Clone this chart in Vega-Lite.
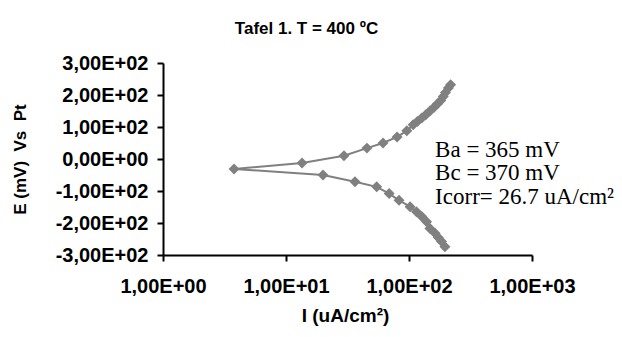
{
  "$schema": "https://vega.github.io/schema/vega-lite/v6.json",
  "autosize": {"type": "none"},
  "width": 369,
  "height": 192,
  "padding": {"left": 163, "top": 63, "right": 90, "bottom": 82},
  "background": "white",
  "config": {"view": {"stroke": null}, "axis": {"labelOverlap": false, "grid": false}},
  "title": {
    "text": "Tafel 1. T = 400 ºC",
    "font": "Liberation Sans",
    "fontSize": 17,
    "fontWeight": "bold",
    "color": "black",
    "anchor": "middle",
    "dx": -41,
    "offset": 15
  },
  "datasets": {
    "pts": [
      {"o": 1, "i": 218, "e": 232},
      {"o": 2, "i": 209, "e": 222},
      {"o": 3, "i": 198, "e": 208},
      {"o": 4, "i": 190, "e": 195},
      {"o": 5, "i": 181, "e": 183},
      {"o": 6, "i": 170, "e": 172},
      {"o": 7, "i": 160, "e": 162},
      {"o": 8, "i": 148, "e": 150},
      {"o": 9, "i": 137, "e": 138},
      {"o": 10, "i": 127, "e": 128},
      {"o": 11, "i": 117, "e": 117},
      {"o": 12, "i": 108, "e": 107},
      {"o": 13, "i": 96, "e": 88},
      {"o": 14, "i": 80, "e": 69},
      {"o": 15, "i": 61.5, "e": 50},
      {"o": 16, "i": 45.5, "e": 34},
      {"o": 17, "i": 29.6, "e": 10},
      {"o": 18, "i": 13.5, "e": -12.5},
      {"o": 19, "i": 3.78, "e": -31},
      {"o": 20, "i": 20, "e": -50},
      {"o": 21, "i": 36.4, "e": -71},
      {"o": 22, "i": 54.6, "e": -87},
      {"o": 23, "i": 69, "e": -108},
      {"o": 24, "i": 83, "e": -129},
      {"o": 25, "i": 102, "e": -149},
      {"o": 26, "i": 115, "e": -165},
      {"o": 27, "i": 127, "e": -180},
      {"o": 28, "i": 139, "e": -196},
      {"o": 29, "i": 148, "e": -217},
      {"o": 30, "i": 163, "e": -232},
      {"o": 31, "i": 173, "e": -245},
      {"o": 32, "i": 184, "e": -258},
      {"o": 33, "i": 196, "e": -274}
    ],
    "notes": [
      {"i": 163, "e": 28, "t": "Ba = 365 mV"},
      {"i": 163, "e": -44, "t": "Bc = 370 mV"},
      {"i": 163, "e": -119, "t": "Icorr= 26.7 uA/cm²"}
    ]
  },
  "encoding": {
    "x": {
      "field": "i", "type": "quantitative",
      "scale": {"type": "log", "domain": [1, 1000], "nice": false},
      "axis": {
        "values": [1, 10, 100, 1000],
        "labelExpr": "'1,00E+0' + round(log(datum.value)/LN10)",
        "title": "I (uA/cm²)",
        "titleX": 182, "titleY": 60, "titleBaseline": "middle", "titleAlign": "center",
        "titleFont": "Liberation Sans", "titleFontSize": 19, "titleFontWeight": "bold", "titleColor": "black",
        "labelFont": "Liberation Sans", "labelFontSize": 20, "labelFontWeight": "bold", "labelColor": "black",
        "labelPadding": 15, "labelFlush": false, "labelOverlap": false,
        "domainColor": "black", "domainWidth": 2, "tickColor": "black", "tickWidth": 2, "tickSize": 6
      }
    },
    "y": {
      "field": "e", "type": "quantitative",
      "scale": {"domain": [-300, 300], "nice": false},
      "axis": {
        "values": [-300, -200, -100, 0, 100, 200, 300],
        "labelExpr": "datum.value == 0 ? '0,00E+00' : (datum.value < 0 ? '-' : '') + format(abs(datum.value)/100, 'd') + ',00E+02'",
        "title": "E (mV)\u00a0\u00a0Vs\u00a0\u00a0Pt",
        "titleX": -143, "titleY": 96, "titleAngle": -90, "titleBaseline": "middle", "titleAlign": "center",
        "titleFont": "Liberation Sans", "titleFontSize": 17, "titleFontWeight": "bold", "titleColor": "black",
        "labelFont": "Liberation Sans", "labelFontSize": 20, "labelFontWeight": "bold", "labelColor": "black",
        "labelPadding": 9, "labelFlush": false, "labelOverlap": false,
        "domainColor": "black", "domainWidth": 2, "tickColor": "black", "tickWidth": 2, "tickSize": 6
      }
    }
  },
  "layer": [
    {
      "data": {"name": "pts"},
      "mark": {"type": "line", "color": "#808080", "strokeWidth": 2},
      "encoding": {
        "order": {"field": "o", "type": "quantitative"}
      }
    },
    {
      "data": {"name": "pts"},
      "mark": {"type": "point", "shape": "diamond", "filled": true, "color": "#808080", "size": 120, "opacity": 1},
      "encoding": {}
    },
    {
      "data": {"name": "notes"},
      "mark": {"type": "text", "font": "Liberation Serif", "fontSize": 23, "align": "left", "baseline": "middle", "color": "black"},
      "encoding": {
        "text": {"field": "t"}
      }
    }
  ]
}
